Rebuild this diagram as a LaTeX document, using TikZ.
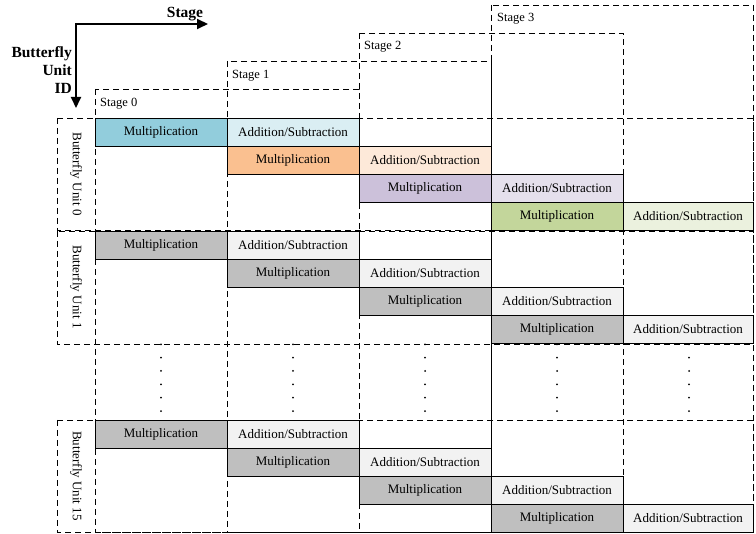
\documentclass[tikz,border=0pt]{standalone}
\usepackage{fontspec}
\setmainfont{Liberation Serif}
\usepackage{tikz}
\usetikzlibrary{arrows.meta}

\definecolor{multblue}{HTML}{92CDDC}
\definecolor{addblue}{HTML}{DAEEF3}
\definecolor{multorange}{HTML}{FAC090}
\definecolor{addorange}{HTML}{FDE9D9}
\definecolor{multpurple}{HTML}{CCC1DA}
\definecolor{addpurple}{HTML}{E5E0EC}
\definecolor{multgreen}{HTML}{C3D69B}
\definecolor{addgreen}{HTML}{EBF1DE}
\definecolor{multgray}{HTML}{BFBFBF}
\definecolor{addgray}{HTML}{F2F2F2}

\begin{document}
\begin{tikzpicture}[x=1pt, y=-1pt,
    op/.style ={draw, line width=0.8pt, minimum width=132pt, minimum height=28pt,
                inner sep=0pt, font=\fontsize{13}{15}\selectfont},
    frame/.style ={draw, line width=0.8pt, dash pattern=on 6pt off 4pt},
    stagelabel/.style ={anchor=west, inner sep=0pt, font=\fontsize{12.5}{14}\selectfont},
    unitlabel/.style ={rotate=-90, inner sep=0pt, font=\fontsize{13}{15}\selectfont},
    axislabel/.style ={inner sep=0pt, font=\fontsize{15.5}{18}\selectfont\bfseries},
    dots/.style ={line width=2pt, line cap=round, dash pattern=on 0pt off 13.35pt}]
   \useasboundingbox (0,0) rectangle (756,534);

   % axes
   \coordinate (O) at (76,24);
   \coordinate (X) at (208,24);
   \coordinate (Y) at (76,108);
   \draw[line width=2pt, {Triangle[length=11pt,width=10pt]}-{Triangle[length=11pt,width=10pt]}]
        (X) -- (O) -- (Y);
   \node[axislabel] (stage) at (185,14) {Stage};
   \node[axislabel, anchor=east, align=right] (unitid) at (72,70) {Butterfly\\Unit\\ID};

   % stage frames
   \draw[frame] (95,89) rectangle (359,532);
   \draw[frame] (227,61) rectangle (491,532);
   \draw[frame] (359,33) rectangle (623,532);
   \draw[frame] (491,5) rectangle (753,532);
   \node[stagelabel] (S0) at (100,104) {Stage 0};
   \node[stagelabel] (S1) at (232,76) {Stage 1};
   \node[stagelabel] (S2) at (364,47) {Stage 2};
   \node[stagelabel] (S3) at (497,19) {Stage 3};

   % butterfly unit frames
   \draw[frame] (57,118) rectangle (753,230);
   \draw[frame] (57,231) rectangle (753,344);
   \draw[frame] (57,420) rectangle (753,532);
   \node[unitlabel] (L0) at (76,174) {Butterfly Unit 0};
   \node[unitlabel] (L1) at (76,287) {Butterfly Unit 1};
   \node[unitlabel] (L15) at (76,476) {Butterfly Unit 15};

   % unit 0
   \node[op, fill=multblue] (M00) at (161,132) {Multiplication};
   \node[op, fill=addblue] (A00) at (293,132) {Addition/Subtraction};
   \node[op, fill=multorange] (M01) at (293,160) {Multiplication};
   \node[op, fill=addorange] (A01) at (425,160) {Addition/Subtraction};
   \node[op, fill=multpurple] (M02) at (425,188) {Multiplication};
   \node[op, fill=addpurple] (A02) at (557,188) {Addition/Subtraction};
   \node[op, fill=multgreen] (M03) at (557,216) {Multiplication};
   \node[op, fill=addgreen, minimum width=130pt] (A03) at (688,216) {Addition/Subtraction};

   % unit 1
   \node[op, fill=multgray] (M10) at (161,245) {Multiplication};
   \node[op, fill=addgray] (A10) at (293,245) {Addition/Subtraction};
   \node[op, fill=multgray] (M11) at (293,273) {Multiplication};
   \node[op, fill=addgray] (A11) at (425,273) {Addition/Subtraction};
   \node[op, fill=multgray] (M12) at (425,301) {Multiplication};
   \node[op, fill=addgray] (A12) at (557,301) {Addition/Subtraction};
   \node[op, fill=multgray] (M13) at (557,329) {Multiplication};
   \node[op, fill=addgray, minimum width=130pt] (A13) at (688,329) {Addition/Subtraction};

   % unit 15
   \node[op, fill=multgray] (M150) at (161,434) {Multiplication};
   \node[op, fill=addgray] (A150) at (293,434) {Addition/Subtraction};
   \node[op, fill=multgray] (M151) at (293,462) {Multiplication};
   \node[op, fill=addgray] (A151) at (425,462) {Addition/Subtraction};
   \node[op, fill=multgray] (M152) at (425,490) {Multiplication};
   \node[op, fill=addgray] (A152) at (557,490) {Addition/Subtraction};
   \node[op, fill=multgray] (M153) at (557,518) {Multiplication};
   \node[op, fill=addgray, minimum width=130pt] (A153) at (688,518) {Addition/Subtraction};

   % dots between unit 1 and unit 15
   \draw[dots] (161,344.3) -- (161,411.5);
   \draw[dots] (293,344.3) -- (293,411.5);
   \draw[dots] (425,344.3) -- (425,411.5);
   \draw[dots] (557,344.3) -- (557,411.5);
   \draw[dots] (689,344.3) -- (689,411.5);
 \end{tikzpicture}
\end{document}
